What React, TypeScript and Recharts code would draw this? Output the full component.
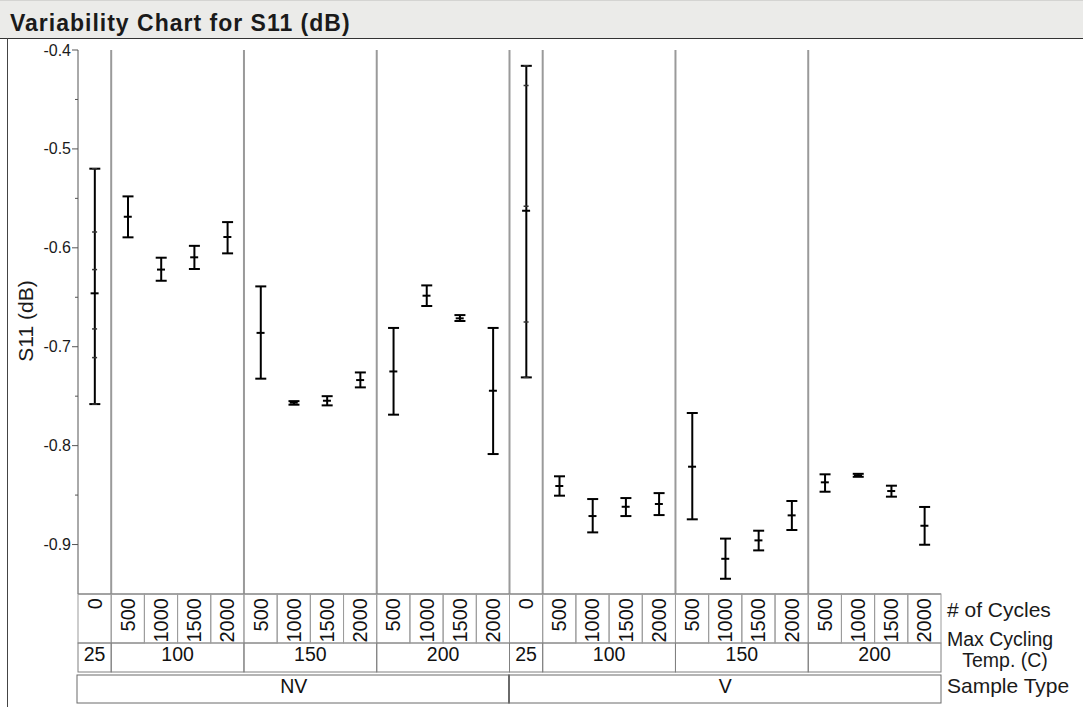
import React from 'react';
import { ComposedChart, Bar, Line, XAxis, YAxis, ReferenceLine } from 'recharts';

// grouping columns, one entry per cell (left to right)
const sampleType = [
  'NV', 'NV', 'NV', 'NV', 'NV', 'NV', 'NV', 'NV', 'NV', 'NV', 'NV', 'NV', 'NV',
  'V', 'V', 'V', 'V', 'V', 'V', 'V', 'V', 'V', 'V', 'V', 'V', 'V',
];
const maxTemp = [
  '25', '100', '100', '100', '100', '150', '150', '150', '150', '200', '200', '200', '200',
  '25', '100', '100', '100', '100', '150', '150', '150', '150', '200', '200', '200', '200',
];
const cycles = [
  '0', '500', '1000', '1500', '2000', '500', '1000', '1500', '2000', '500', '1000', '1500', '2000',
  '0', '500', '1000', '1500', '2000', '500', '1000', '1500', '2000', '500', '1000', '1500', '2000',
];

// S11 (dB) per cell: range and cell mean
const s11Max = [
  -0.520, -0.548, -0.610, -0.598, -0.574, -0.639, -0.755, -0.750, -0.726, -0.681, -0.638, -0.668, -0.681,
  -0.416, -0.831, -0.854, -0.853, -0.848, -0.767, -0.894, -0.886, -0.856, -0.829, -0.8285, -0.8405, -0.862,
];
const s11Mean = [
  -0.646, -0.5685, -0.622, -0.6096, -0.589, -0.686, -0.7566, -0.7546, -0.7337, -0.725, -0.6484, -0.6713, -0.7445,
  -0.5625, -0.8408, -0.8712, -0.8618, -0.859, -0.8213, -0.9144, -0.8958, -0.8705, -0.8371, -0.830, -0.8459, -0.881,
];
const s11Min = [
  -0.758, -0.5894, -0.6333, -0.6214, -0.6056, -0.7323, -0.7586, -0.7593, -0.7411, -0.7687, -0.6588, -0.674, -0.8085,
  -0.731, -0.8506, -0.8877, -0.8712, -0.8702, -0.8745, -0.9346, -0.9059, -0.8853, -0.8466, -0.8315, -0.8516, -0.9002,
];

// single readings of the 25 C samples (drawn as small ticks on the range bar)
const nvAmbientReadings = [-0.520, -0.584, -0.622, -0.682, -0.711, -0.758];
const vAmbientReadings = [-0.416, -0.436, -0.558, -0.675, -0.731];

const yTicks = [-0.4, -0.45, -0.5, -0.55, -0.6, -0.65, -0.7, -0.75, -0.8, -0.85, -0.9];

const W = 1083;
const H = 707;
const CHART_TOP = 38;
const MARGIN = { top: 12, right: 142, bottom: 0, left: 8 };
const Y_AXIS_W = 70;
const X_AXIS_H = 113;
const BAND = (W - MARGIN.left - MARGIN.right - Y_AXIS_W) / cycles.length;
const FONT = '"Liberation Sans", Arial, Helvetica, sans-serif';

const ids = cycles.map((c, i) => `${sampleType[i]}-${maxTemp[i]}-${c}`);
const readings: Record<string, number[]> = {
  'NV-25-0': nvAmbientReadings,
  'V-25-0': vAmbientReadings,
};
const readingKeys = ['r0', 'r1', 'r2', 'r3', 'r4', 'r5'];

const tempKey = (i: number) => `${sampleType[i]}-${maxTemp[i]}`;

// length of the run of equal keys starting at i (0 when i is inside a run)
const runAt = (key: (i: number) => string, i: number) => {
  if (i > 0 && key(i - 1) === key(i)) return 0;
  let n = 1;
  while (i + n < cycles.length && key(i + n) === key(i)) n++;
  return n;
};

const CategoryTick = (props: any) => {
  const { x, y } = props;
  const i = props.index ?? props.payload?.index ?? 0;
  const left = x - BAND / 2;
  const tempRun = runAt(tempKey, i);
  const sampleRun = runAt((k) => sampleType[k], i);
  return (
    <g fontFamily={FONT} fill="#111">
      <rect x={left} y={y} width={BAND} height={49} fill="none" stroke="#9c9c9c" />
      <text transform={`translate(${x + 7},${y + 4}) rotate(-90)`} textAnchor="end" fontSize={20}>
        {cycles[i]}
      </text>
      {tempRun > 0 && (
        <g>
          <rect x={left} y={y + 49} width={BAND * tempRun} height={29} fill="none" stroke="#808080" />
          <text x={left + (BAND * tempRun) / 2} y={y + 67} textAnchor="middle" fontSize={19.5}>
            {maxTemp[i]}
          </text>
        </g>
      )}
      {sampleRun > 0 && (
        <g>
          <rect x={left - 1} y={y + 81} width={BAND * sampleRun + 1} height={28} fill="none" stroke="#6a6a6a" />
          <text x={left + (BAND * sampleRun) / 2} y={y + 99} textAnchor="middle" fontSize={19.5}>
            {sampleType[i]}
          </text>
        </g>
      )}
    </g>
  );
};

const ValueTick = (props: any) => {
  const { x, y, payload } = props;
  const v = payload.value as number;
  const major = Math.abs(Math.round(v * 100)) % 10 === 0;
  return (
    <g>
      <line x1={x - (major ? 6 : 3)} x2={x} y1={y} y2={y} stroke="#555" />
      {major && (
        <text x={x - 7} y={y} dy={5.5} textAnchor="end" fontSize={16} fontFamily={FONT} fill="#1a1a1a">
          {v.toFixed(1)}
        </text>
      )}
    </g>
  );
};

// vertical range bar with end caps
const RangeBar = (props: any) => {
  const { x, y, width, height } = props;
  const cx = x + width / 2;
  const top = Math.min(y, y + height);
  const bottom = Math.max(y, y + height);
  return (
    <g stroke="#000" strokeWidth={2}>
      <line x1={cx} x2={cx} y1={top} y2={bottom} />
      <line x1={cx - 5.5} x2={cx + 5.5} y1={top} y2={top} />
      <line x1={cx - 5.5} x2={cx + 5.5} y1={bottom} y2={bottom} />
    </g>
  );
};

const MeanMark = (props: any) => {
  const { cx, cy } = props;
  if (typeof cy !== 'number' || Number.isNaN(cy)) return <g />;
  return <line x1={cx - 4} x2={cx + 4} y1={cy} y2={cy} stroke="#000" strokeWidth={2} />;
};

const ReadingMark = (props: any) => {
  const { cx, cy } = props;
  if (typeof cy !== 'number' || Number.isNaN(cy)) return <g />;
  return <line x1={cx - 2.5} x2={cx + 2.5} y1={cy} y2={cy} stroke="#333" strokeWidth={1.5} />;
};

export default function App() {
  const data = ids.map((id, i) => {
    const row: Record<string, any> = { id, range: [s11Min[i], s11Max[i]], mean: s11Mean[i] };
    (readings[id] || []).forEach((v, k) => {
      row[readingKeys[k]] = v;
    });
    return row;
  });

  const separators = ids.filter((_, i) => i > 0 && tempKey(i) !== tempKey(i - 1));

  return (
    <div style={{ position: 'relative', width: W, height: H, background: '#fff', overflow: 'hidden', fontFamily: FONT }}>
      <style>{'body{margin:0}'}</style>
      <svg width={W} height={H} style={{ position: 'absolute', left: 0, top: 0 }}>
        <rect x={0} y={0} width={W} height={38} fill="#ebebe9" />
        <line x1={0} x2={W} y1={0.5} y2={0.5} stroke="#d4d4d2" />
        <line x1={0} x2={W} y1={38.5} y2={38.5} stroke="#333" />
        <line x1={7.5} x2={7.5} y1={38} y2={H} stroke="#444" />
        <text x={10} y={31} fontSize={23} fontWeight="bold" fill="#1a1a1a" letterSpacing={1}>
          Variability Chart for S11 (dB)
        </text>
        <text transform="translate(33,321) rotate(-90)" textAnchor="middle" fontSize={21} fill="#1a1a1a">
          S11 (dB)
        </text>
        <g fontSize={21} fill="#1a1a1a">
          <text x={947} y={617}># of Cycles</text>
          <text x={947} y={646} fontSize={19.5}>Max Cycling</text>
          <text x={1005} y={667} fontSize={19.5} textAnchor="middle">Temp. (C)</text>
          <text x={947} y={693}>Sample Type</text>
        </g>
      </svg>
      <div style={{ position: 'absolute', left: 0, top: CHART_TOP }}>
        <ComposedChart width={W} height={H - CHART_TOP} data={data} margin={MARGIN} barCategoryGap="10%">
          <XAxis
            dataKey="id"
            type="category"
            interval={0}
            height={X_AXIS_H}
            tickSize={0}
            tickMargin={0}
            tickLine={false}
            axisLine={{ stroke: '#555' }}
            tick={<CategoryTick />}
          />
          <XAxis
            xAxisId="top"
            dataKey="id"
            orientation="top"
            height={0}
            tick={false}
            tickLine={false}
            axisLine={{ stroke: '#8a8a8a' }}
          />
          <YAxis
            type="number"
            domain={[-0.95, -0.4]}
            allowDataOverflow
            ticks={yTicks}
            interval={0}
            width={Y_AXIS_W}
            tickSize={0}
            tickMargin={0}
            tickLine={false}
            axisLine={{ stroke: '#555' }}
            tick={<ValueTick />}
          />
          <YAxis
            yAxisId="right"
            orientation="right"
            type="number"
            domain={[-0.95, -0.4]}
            width={0}
            tick={false}
            tickLine={false}
            axisLine={{ stroke: '#8a8a8a' }}
          />
          {separators.map((id) => (
            <ReferenceLine key={id} x={id} position="start" stroke="#9a9a9a" strokeWidth={2} />
          ))}
          <Bar dataKey="range" shape={<RangeBar />} isAnimationActive={false} legendType="none" />
          {readingKeys.map((k) => (
            <Line
              key={k}
              dataKey={k}
              stroke="none"
              dot={<ReadingMark />}
              activeDot={false}
              isAnimationActive={false}
              legendType="none"
            />
          ))}
          <Line
            dataKey="mean"
            stroke="none"
            dot={<MeanMark />}
            activeDot={false}
            isAnimationActive={false}
            legendType="none"
          />
        </ComposedChart>
      </div>
    </div>
  );
}
